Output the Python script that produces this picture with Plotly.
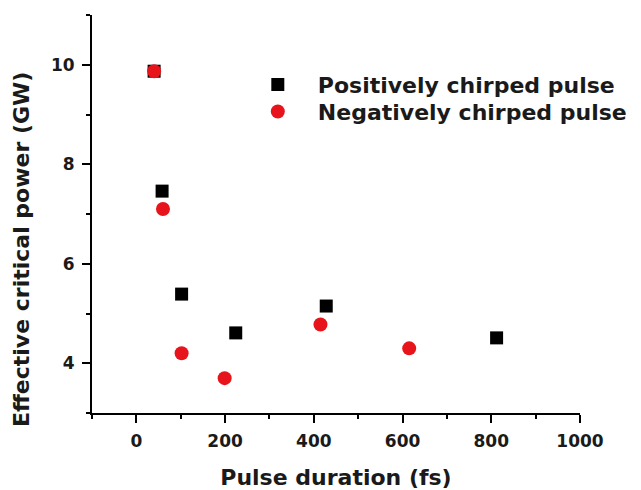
import plotly.graph_objects as go

# Data
pos_x = [40, 58, 102, 224, 428, 812]
pos_y = [9.87, 7.46, 5.39, 4.61, 5.15, 4.51]
neg_x = [40, 60, 102, 199, 415, 615]
neg_y = [9.87, 7.10, 4.20, 3.70, 4.78, 4.30]

x_ticks = [0, 200, 400, 600, 800, 1000]
y_ticks = [4, 6, 8, 10]

FONT = "DejaVu Sans, sans-serif"
TXT = "#1a1a1a"

fig = go.Figure()
fig.add_trace(go.Scatter(
    x=pos_x, y=pos_y, mode="markers", name="<b>Positively chirped pulse</b>",
    marker=dict(symbol="square", size=13, color="black", line=dict(width=0)),
    legend="legend",
))
fig.add_trace(go.Scatter(
    x=neg_x, y=neg_y, mode="markers", name="<b>Negatively chirped pulse</b>",
    marker=dict(symbol="circle", size=14, color="#e8141c", line=dict(width=0)),
    legend="legend2",
))

axis_common = dict(
    showline=True, linecolor="black", linewidth=2,
    ticks="outside", tickcolor="black", tickwidth=2, ticklen=8,
    showgrid=False, zeroline=False, mirror=False, automargin=False,
    tickfont=dict(family=FONT, size=17, color=TXT),
    ticklabelstandoff=4,
    minor=dict(ticks="outside", ticklen=4, tickwidth=2, tickcolor="black"),
)

fig.update_xaxes(
    range=[-100, 1000], tickvals=x_ticks,
    ticktext=[f"<b>{v}</b>" for v in x_ticks],
    title=dict(text="<b>Pulse duration (fs)</b>", font=dict(family=FONT, size=22, color=TXT), standoff=22),
    minor_dtick=100, **axis_common,
)
fig.update_yaxes(
    range=[3, 11], tickvals=y_ticks,
    ticktext=[f"<b>{v}</b>" for v in y_ticks],
    minor_dtick=1, **axis_common,
)

fig.add_annotation(
    text="<b>Effective critical power (GW)</b>", textangle=-90,
    xref="paper", yref="paper", x=-0.143, y=0.41,
    xanchor="center", yanchor="middle", showarrow=False,
    font=dict(family=FONT, size=22, color=TXT),
)

leg_common = dict(
    xref="container", yref="container",
    xanchor="left", yanchor="top",
    bgcolor="rgba(0,0,0,0)", borderwidth=0,
    font=dict(family=FONT, size=22, color=TXT),
    itemwidth=70,
)

fig.update_layout(
    width=641, height=490,
    margin=dict(l=92, r=61, t=15, b=77, autoexpand=False),
    plot_bgcolor="white", paper_bgcolor="white",
    showlegend=True,
    legend=dict(x=0.371, y=0.870, **leg_common),
    legend2=dict(x=0.371, y=0.815, **leg_common),
)

fig.write_html("out.html")
